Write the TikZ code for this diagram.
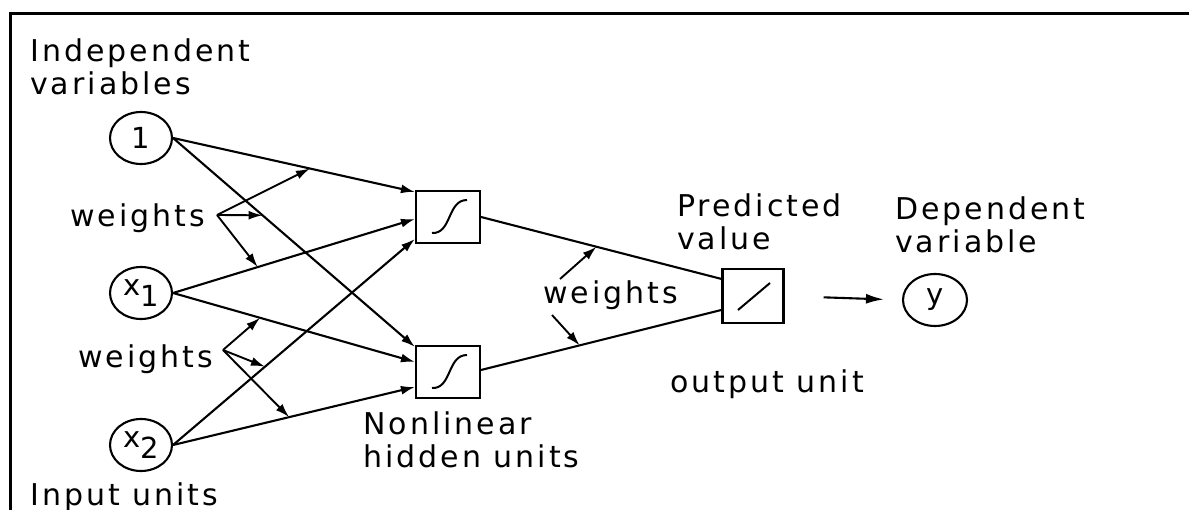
\documentclass[tikz,border=0pt]{standalone}
\usepackage{fontspec}
\newfontfamily\lett{DejaVu Sans}[LetterSpace=10]
\newfontfamily\lettsym{DejaVu Sans}
\usetikzlibrary{arrows.meta,shapes.geometric,calc}

\begin{document}
\begin{tikzpicture}[x=1pt,y=-1pt,
  lw/.style={line width=2.1pt},
  inunit/.style={ellipse, draw, lw, minimum width=62pt, minimum height=52pt,
    inner sep=0pt, font=\lettsym\fontsize{29}{30}\selectfont},
  hidunit/.style={draw, lw, minimum width=64pt, minimum height=52pt, inner sep=0pt},
  outunit/.style={draw, lw, minimum width=61pt, minimum height=54pt, inner sep=0pt},
  lab/.style={inner sep=0pt, align=left, font=\lett\fontsize{30}{33}\selectfont},
  conn/.style={lw, -{Latex[length=14pt,width=9pt]}},
  plainconn/.style={lw},
  wgt/.style={line width=1.9pt, -{Latex[length=14pt,width=9pt]}},
  curve/.style={line width=2pt}
]
\useasboundingbox (0,0) rectangle (1189,510);
\clip (0,0) rectangle (1189,510);

% frame
\draw[line width=3pt] (10,520) -- (10,14) -- (1200,14);

% units
\node[inunit] (n1) at (141,138) {1};
\node[inunit] (x1) at (141,293) {\raisebox{0.1em}{x}\raisebox{-0.3em}{1}};
\node[inunit] (x2) at (141,445) {\raisebox{0.1em}{x}\raisebox{-0.3em}{2}};
\node[hidunit] (h1) at (448,217) {};
\node[hidunit] (h2) at (448,372) {};
\node[outunit] (o) at (753,296) {};
\node[inunit, minimum width=64pt] (y) at (935,300) {y};

% transfer functions
\draw[curve] ($(h1.center)+(-16,16)$) .. controls ($(h1.center)+(4,17)$) and ($(h1.center)+(-1,-17)$) .. ($(h1.center)+(19,-17)$);
\draw[curve] ($(h2.center)+(-16,16)$) .. controls ($(h2.center)+(4,17)$) and ($(h2.center)+(-1,-17)$) .. ($(h2.center)+(19,-17)$);
\draw[curve] ($(o.center)+(-15,14)$) -- ($(o.center)+(17,-13)$);

% entry points on the units
\coordinate (h1a) at ($(h1.north west)+(0,2)$);
\coordinate (h1b) at ($(h1.north west)+(0,29)$);
\coordinate (h1c) at ($(h1.north west)+(0,49)$);
\coordinate (h2a) at ($(h2.north west)+(0,2)$);
\coordinate (h2b) at ($(h2.north west)+(0,17)$);
\coordinate (h2c) at ($(h2.north west)+(0,42)$);
\coordinate (oa) at ($(o.north west)+(0,11)$);
\coordinate (ob) at ($(o.north west)+(0,42)$);
\coordinate (h2o) at ($(h2.east)+(0,-2)$);

% input to hidden connections
\draw[conn] (n1.east) -- (h1a);
\draw[conn] (n1.east) -- (h2a);
\draw[conn] (x1.east) -- (h1b);
\draw[conn] (x1.east) -- (h2b);
\draw[conn] (x2.east) -- (h1c);
\draw[conn] (x2.east) -- (h2c);

% hidden to output
\draw[plainconn] (h1.east) -- (oa);
\draw[plainconn] (h2o) -- (ob);
\draw[lw, -{Latex[length=18pt,width=10pt]}, shorten <=39pt, shorten >=18pt] (o.east) -- (y.west);

% weight pointers
\coordinate (wa) at (217,215);
\draw[wgt] (wa) -- ($(n1.east)!0.566!(h1a)$);
\draw[wgt] (wa) -- ($(n1.east)!0.37!(h2a)$);
\draw[wgt] (wa) -- ($(x1.east)!0.35!(h1b)$);
\coordinate (wb) at (223,350);
\draw[wgt] (wb) -- ($(x1.east)!0.36!(h2b)$);
\draw[wgt] (wb) -- ($(x2.east)!0.38!(h1c)$);
\draw[wgt] (wb) -- ($(x2.east)!0.48!(h2c)$);
\coordinate (wc) at (560,279);
\draw[wgt] (wc) -- ($(h1.east)!0.48!(oa)$);
\coordinate (wd) at (552,315);
\draw[wgt] (wd) -- ($(h2o)!0.41!(ob)$);

% labels
\node[lab, anchor=north west] (tin) at (30,39) {Independent\\variables};
\node[lab, anchor=base west] (tw1) at (70,227) {weights};
\node[lab, anchor=base west] (tw2) at (78,368) {weights};
\node[lab, anchor=base west] (tw3) at (543,304) {weights};
\node[lab, anchor=north west] (thid) at (363,412) {Nonlinear\\hidden units};
\node[lab, anchor=base west] (tinu) at (30,505) {Input units};
\node[lab, anchor=north west] (tpred) at (677,194) {Predicted\\value};
\node[lab, anchor=north west] (tdep) at (895,197) {Dependent\\variable};
\node[lab, anchor=base west] (tout) at (670,393) {output unit};
\end{tikzpicture}
\end{document}
